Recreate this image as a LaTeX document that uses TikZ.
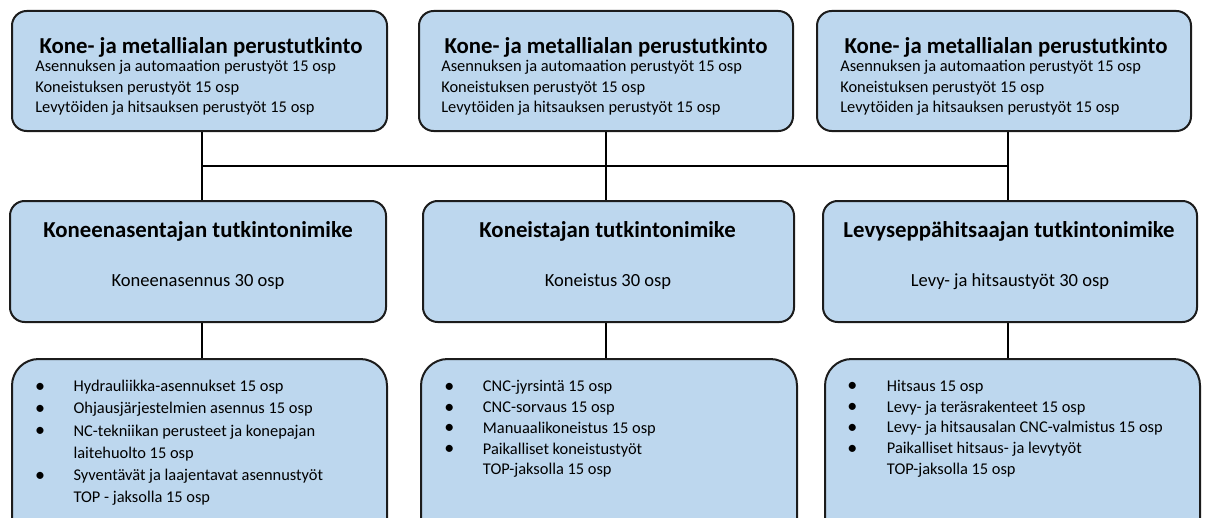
\documentclass[tikz,border=0pt]{standalone}
\usepackage{fontspec}
\setmainfont{Carlito}
\usetikzlibrary{fit,backgrounds}
\definecolor{boxfill}{RGB}{189,215,238}
\definecolor{boxline}{RGB}{28,28,28}
\begin{document}
\begin{tikzpicture}[x=0.75pt,y=-0.75pt,
  box/.style={draw=boxline, fill=boxfill, line width=1.5pt, rounded corners=11pt, inner sep=0pt},
  tallbox/.style={box, rounded corners=20pt},
  link/.style={draw=black, line width=2.2pt},
  title/.style={font=\fontsize{17.1}{20}\selectfont\bfseries, inner sep=0pt, anchor=base},
  body/.style={font=\fontsize{12.3}{15}\selectfont, inner sep=0pt, anchor=base west},
  midbody/.style={font=\fontsize{13.9}{17}\selectfont, inner sep=0pt, anchor=base},
  dot/.style={font=\fontsize{15}{15}\selectfont, inner sep=0pt, anchor=base}
]
\clip (0,0) rectangle (1205,517);

% top row: basic qualification boxes
\node[box, fit={(12,11) (387,131)}] (t1) {};
\node[box, fit={(419,11) (793,131)}] (t2) {};
\node[box, fit={(817,11) (1191,131)}] (t3) {};
% middle row: qualification titles
\node[box, fit={(10,201) (386,322)}] (m1) {};
\node[box, fit={(423,201) (794,322)}] (m2) {};
\node[box, fit={(823,201) (1197,322)}] (m3) {};
% bottom row: module lists
\node[tallbox, fit={(12,359) (387,560)}] (b1) {};
\node[tallbox, fit={(421,359) (797,560)}] (b2) {};
\node[tallbox, fit={(825,359) (1200,560)}] (b3) {};

% connectors
\coordinate (j1) at (202,166);
\coordinate (j2) at (606,166);
\coordinate (j3) at (1008,166);
\begin{scope}[on background layer]
  \draw[link] (j1) -- (j3);
  \draw[link] (t1.south -| j1) -- (m1.north -| j1);
  \draw[link] (t2.south -| j2) -- (m2.north -| j2);
  \draw[link] (t3.south -| j3) -- (m3.north -| j3);
  \draw[link] (m1.south -| j1) -- (b1.north -| j1);
  \draw[link] (m2.south -| j2) -- (b2.north -| j2);
  \draw[link] (m3.south -| j3) -- (b3.north -| j3);
\end{scope}

% top row texts
\foreach \k/\cx/\lx in {1/201/35, 2/606/441, 3/1006/840} {
  \node[title] (t\k h) at (\cx,54) {Kone- ja metallialan perustutkinto};
  \node[body] (t\k a) at (\lx,71) {Asennuksen ja automaation perustyöt 15 osp};
  \node[body] (t\k b) at (\lx,92) {Koneistuksen perustyöt 15 osp};
  \node[body] (t\k c) at (\lx,113) {Levytöiden ja hitsauksen perustyöt 15 osp};
}

% middle row texts
\node[title] (m1h) at (198,237) {Koneenasentajan tutkintonimike};
\node[midbody] (m1a) at (198,286.5) {Koneenasennus 30 osp};
\node[title] (m2h) at (607.5,237) {Koneistajan tutkintonimike};
\node[midbody] (m2a) at (608,286.5) {Koneistus 30 osp};
\node[title] (m3h) at (1009,237) {Levyseppähitsaajan tutkintonimike};
\node[midbody] (m3a) at (1010,286.5) {Levy- ja hitsaustyöt 30 osp};

% bottom row lists
\foreach \t [count=\i] in {Hydrauliikka-asennukset 15 osp, Ohjausjärjestelmien asennus 15 osp,
    NC-tekniikan perusteet ja konepajan, laitehuolto 15 osp,
    Syventävät ja laajentavat asennustyöt, TOP - jaksolla 15 osp}
  \node[body] (b1l\i) at (73.3,{391.7+22.2*(\i-1)}) {\t};
\foreach \i in {1,2,3,5}
  \node[dot] (b1d\i) at (40,{392.2+22.2*(\i-1)}) {\textbullet};

\foreach \t [count=\i] in {CNC-jyrsintä 15 osp, CNC-sorvaus 15 osp, Manuaalikoneistus 15 osp,
    Paikalliset koneistustyöt, TOP-jaksolla 15 osp}
  \node[body] (b2l\i) at (482.7,{391.7+20.8*(\i-1)}) {\t};
\foreach \i in {1,2,3,4}
  \node[dot] (b2d\i) at (449.3,{392.2+20.8*(\i-1)}) {\textbullet};

\foreach \t [count=\i] in {Hitsaus 15 osp, Levy- ja teräsrakenteet 15 osp,
    Levy- ja hitsausalan CNC-valmistus 15 osp, Paikalliset hitsaus- ja levytyöt, TOP-jaksolla 15 osp}
  \node[body] (b3l\i) at (886.7,{391.2+20.8*(\i-1)}) {\t};
\foreach \i in {1,2,3,4}
  \node[dot] (b3d\i) at (852.3,{391.7+20.8*(\i-1)}) {\textbullet};
\end{tikzpicture}
\end{document}
